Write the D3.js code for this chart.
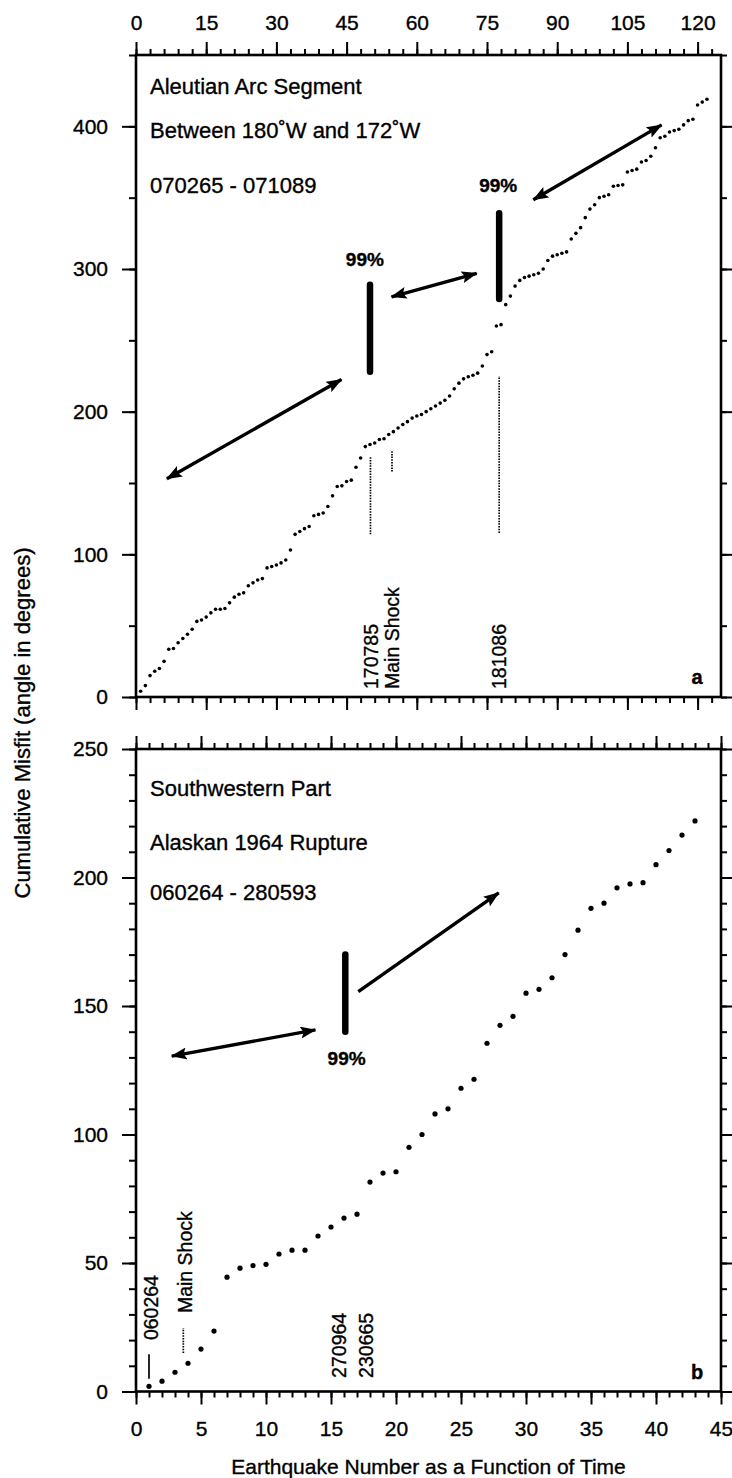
<!DOCTYPE html>
<html>
<head>
<meta charset="utf-8">
<script src="https://cdn.jsdelivr.net/npm/d3@7"></script>
<style>
  body { margin: 0; background: #fff; }
  svg text { font-family: "Liberation Sans", Arial, Helvetica, sans-serif; fill: #000; stroke: #000; stroke-width: 0.35; }
</style>
</head>
<body>
<svg id="chart" width="732" height="1478"></svg>
<script>
// panel a: cumulative misfit for earthquakes 1..123 (Aleutian arc)
var misfitA = [4, 8, 15, 18, 20, 25, 33.5, 34, 38, 41,
  44, 47.5, 53, 54, 56, 59, 61.5, 61.5, 62, 66,
  70, 72, 73, 78, 80, 82, 83, 90.5, 91.5, 92.5,
  94, 96, 103, 114, 116, 118, 119.5, 127, 128, 129,
  133.5, 141, 147.5, 148, 151, 152, 161, 167.5, 175.5, 177,
  178, 180.5, 181, 184, 186, 188.5, 191, 193, 195.5, 197,
  198, 200, 202, 204, 206, 208, 211, 216, 220, 223,
  224.5, 225.5, 227, 232, 240, 242, 260, 261, 275, 281,
  288, 292, 294, 295, 296, 297, 300, 306, 309, 310,
  311, 312, 321, 325, 329, 336, 342, 345, 350, 351,
  352, 358, 358.5, 359, 368, 369, 370, 375, 376, 379,
  385, 392, 393, 396, 397, 398, 401, 404, 405, 415,
  417, 419];
// panel b: cumulative misfit for earthquakes 1..43 (1964 rupture)
var misfitB = [2, 4, 7.5, 11, 16.5, 23.5, 44.5, 48, 49, 49.5,
  53.5, 55, 55, 60.5, 64, 67.5, 69, 81.5, 85, 85.5,
  95, 100, 108, 110, 118, 121.5, 135.5, 142.5, 146, 155,
  156.5, 161, 170, 179.5, 188, 190, 196, 197.5, 198, 205,
  210.5, 216.5, 222];

var ticksAX = [0, 15, 30, 45, 60, 75, 90, 105, 120];
var ticksAY = [0, 100, 200, 300, 400];
var ticksBX = [0, 5, 10, 15, 20, 25, 30, 35, 40, 45];
var ticksBY = [0, 50, 100, 150, 200, 250];

var titleA = ["Aleutian Arc Segment", "Between 180\u02DAW and 172\u02DAW", "070265 - 071089"];
var titleB = ["Southwestern Part", "Alaskan 1964 Rupture", "060264 - 280593"];

// annotations, in data units
var barsA = [{x: 50, y0: 228, y1: 289}, {x: 77.6, y0: 279, y1: 339}];
var barsB = [{x: 16.1, y0: 140, y1: 170}];
var percentA = [{x: 48.9, y: 307}, {x: 77.4, y: 359}];
var percentB = [{x: 16.2, y: 129.7}];
var arrowsA = [
  {x0: 6.6, y0: 153, x1: 43.9, y1: 222.5, both: true},
  {x0: 54.6, y0: 280.5, x1: 72.8, y1: 297, both: true},
  {x0: 84.9, y0: 348.5, x1: 112.3, y1: 401, both: true}
];
var arrowsB = [
  {x0: 2.75, y0: 130.5, x1: 13.8, y1: 140.7, both: true},
  {x0: 17.1, y0: 155.6, x1: 27.9, y1: 194, both: false}
];
var eventLinesA = [
  {x: 50.1, y0: 114, y1: 169, dotted: true},
  {x: 54.7, y0: 158, y1: 173, dotted: true},
  {x: 77.6, y0: 115, y1: 225, dotted: true}
];
var eventLinesB = [
  {x: 1, y0: 5, y1: 14.5, dotted: false},
  {x: 3.64, y0: 15, y1: 24.6, dotted: true}
];
var eventLabelsA = [
  {x: 50.2, y: 5.6, text: "170785"},
  {x: 54.6, y: 5.6, text: "Main Shock"},
  {x: 77.6, y: 5.6, text: "181086"}
];
var eventLabelsB = [
  {x: 1.14, y: 20, text: "060264"},
  {x: 3.73, y: 30.5, text: "Main Shock"},
  {x: 15.6, y: 5.3, text: "270964"},
  {x: 17.7, y: 5.3, text: "230665"}
];

var frameLeft = 136, frameRight = 721;
var svg = d3.select("#chart");

var defs = svg.append("defs");
defs.append("marker").attr("id", "head")
  .attr("viewBox", "0 0 16 12").attr("refX", 15).attr("refY", 6)
  .attr("markerWidth", 16).attr("markerHeight", 12)
  .attr("markerUnits", "userSpaceOnUse").attr("orient", "auto-start-reverse")
  .append("path").attr("d", "M0,0 L16,6 L0,12 L3,6 Z").attr("fill", "#000");

function styleAxis(g) {
  g.select(".domain").remove();
  g.selectAll(".tick line").attr("stroke", "#000").attr("stroke-width", 2);
  g.selectAll(".tick text").attr("font-size", 21).attr("fill", "#000")
    .attr("font-family", "'Liberation Sans', Arial, sans-serif");
}

function drawAxes(g, x, y, o) {
  var minorX = d3.range(0, x.domain()[1] + 0.001, o.minorX);
  var minorY = d3.range(0, y.domain()[1] + 0.001, o.minorY);
  var top = y.range()[1], bottom = y.range()[0];

  var xTop = d3.axisTop(x).tickValues(o.ticksX).tickSize(13).tickSizeOuter(0).tickPadding(12);
  if (!o.labelsTop) xTop.tickFormat("");
  g.append("g").attr("transform", "translate(0," + top + ")").call(xTop).call(styleAxis);
  g.append("g").attr("transform", "translate(0," + top + ")")
    .call(d3.axisTop(x).tickValues(minorX).tickSize(6).tickFormat("")).call(styleAxis);

  var xBot = d3.axisBottom(x).tickValues(o.ticksX).tickSize(13).tickSizeOuter(0).tickPadding(17);
  if (o.labelsTop) xBot.tickFormat("");
  g.append("g").attr("transform", "translate(0," + bottom + ")").call(xBot).call(styleAxis);
  g.append("g").attr("transform", "translate(0," + bottom + ")")
    .call(d3.axisBottom(x).tickValues(minorX).tickSize(6).tickFormat("")).call(styleAxis);

  g.append("g").attr("transform", "translate(" + frameLeft + ",0)")
    .call(d3.axisLeft(y).tickValues(o.ticksY).tickSize(14).tickPadding(14)).call(styleAxis);
  g.append("g").attr("transform", "translate(" + frameLeft + ",0)")
    .call(d3.axisLeft(y).tickValues(minorY).tickSize(7).tickFormat("")).call(styleAxis);
  g.append("g").attr("transform", "translate(" + frameRight + ",0)")
    .call(d3.axisRight(y).tickValues(o.ticksY).tickSize(13).tickFormat("")).call(styleAxis);
  g.append("g").attr("transform", "translate(" + frameRight + ",0)")
    .call(d3.axisRight(y).tickValues(minorY).tickSize(6).tickFormat("")).call(styleAxis);

  g.append("rect").attr("x", frameLeft).attr("y", top)
    .attr("width", frameRight - frameLeft).attr("height", bottom - top)
    .attr("fill", "none").attr("stroke", "#000").attr("stroke-width", 2.6);
}

function drawPanel(o) {
  var g = svg.append("g");
  var x = d3.scaleLinear().domain(o.xDomain).range([frameLeft, frameRight]);
  var y = d3.scaleLinear().domain(o.yDomain).range([o.bottom, o.top]);
  drawAxes(g, x, y, o);

  o.title.forEach(function(t, i) {
    g.append("text").attr("x", frameLeft + 14).attr("y", o.top + o.titleY[i])
      .attr("font-size", 22).text(t);
  });

  g.selectAll(".pt").data(o.values).enter().append("circle")
    .attr("cx", function(d, i) { return x(i + 1); })
    .attr("cy", function(d) { return y(d); })
    .attr("r", o.dotR).attr("fill", "#000");

  g.selectAll(".ev").data(o.eventLines).enter().append("line")
    .attr("x1", function(d) { return x(d.x); }).attr("x2", function(d) { return x(d.x); })
    .attr("y1", function(d) { return y(d.y0); }).attr("y2", function(d) { return y(d.y1); })
    .attr("stroke", "#000").attr("stroke-width", 1.7)
    .attr("stroke-dasharray", function(d) { return d.dotted ? "1.5,1.2" : null; });

  g.selectAll(".evl").data(o.eventLabels).enter().append("text")
    .attr("transform", function(d) { return "translate(" + x(d.x) + "," + y(d.y) + ") rotate(-90)"; })
    .attr("dy", "0.36em").attr("font-size", 19.5).text(function(d) { return d.text; });

  g.selectAll(".bar").data(o.bars).enter().append("line")
    .attr("x1", function(d) { return x(d.x); }).attr("x2", function(d) { return x(d.x); })
    .attr("y1", function(d) { return y(d.y0); }).attr("y2", function(d) { return y(d.y1); })
    .attr("stroke", "#000").attr("stroke-width", 6.5).attr("stroke-linecap", "round");

  g.selectAll(".pc").data(o.percent).enter().append("text")
    .attr("x", function(d) { return x(d.x); }).attr("y", function(d) { return y(d.y); })
    .attr("dy", "0.36em").attr("text-anchor", "middle").attr("font-size", 19)
    .attr("font-weight", "bold").text("99%");

  g.selectAll(".arr").data(o.arrows).enter().append("line")
    .attr("x1", function(d) { return x(d.x0); }).attr("y1", function(d) { return y(d.y0); })
    .attr("x2", function(d) { return x(d.x1); }).attr("y2", function(d) { return y(d.y1); })
    .attr("stroke", "#000").attr("stroke-width", 3.4)
    .attr("marker-end", "url(#head)")
    .attr("marker-start", function(d) { return d.both ? "url(#head)" : null; });

  g.append("text").attr("x", frameRight - 24).attr("y", o.bottom - 20)
    .attr("dy", "0.36em").attr("text-anchor", "middle").attr("font-size", 20)
    .attr("font-weight", "bold").text(o.letter);
}

drawPanel({
  top: 55, bottom: 697, xDomain: [0, 125], yDomain: [0, 450],
  ticksX: ticksAX, ticksY: ticksAY, minorX: 3, minorY: 50, labelsTop: true,
  values: misfitA, dotR: 1.8, title: titleA, titleY: [39, 83, 138],
  bars: barsA, percent: percentA, arrows: arrowsA,
  eventLines: eventLinesA, eventLabels: eventLabelsA, letter: "a"
});
drawPanel({
  top: 749, bottom: 1391.5, xDomain: [0, 45], yDomain: [0, 250],
  ticksX: ticksBX, ticksY: ticksBY, minorX: 1, minorY: 10, labelsTop: false,
  values: misfitB, dotR: 2.6, title: titleB, titleY: [47, 101, 151],
  bars: barsB, percent: percentB, arrows: arrowsB,
  eventLines: eventLinesB, eventLabels: eventLabelsB, letter: "b"
});

svg.append("text").attr("x", (frameLeft + frameRight) / 2).attr("y", 1474)
  .attr("text-anchor", "middle").attr("font-size", 21)
  .text("Earthquake Number as a Function of Time");
svg.append("text").attr("transform", "translate(30,723) rotate(-90)")
  .attr("text-anchor", "middle").attr("font-size", 22)
  .text("Cumulative Misfit (angle in degrees)");
</script>
</body>
</html>
